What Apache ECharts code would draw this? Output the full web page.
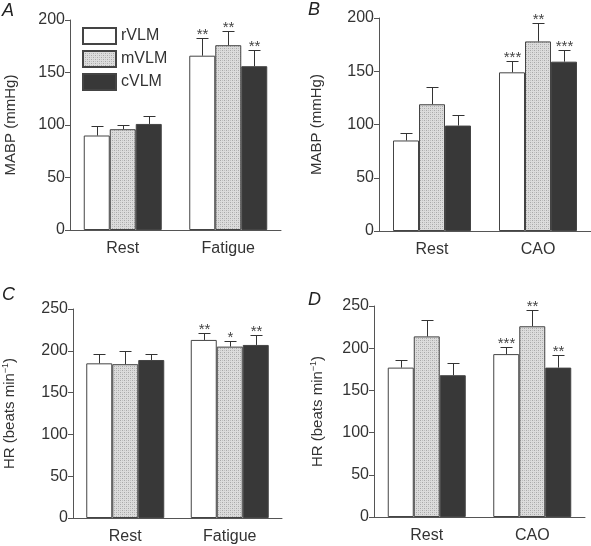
<!DOCTYPE html>
<html><head><meta charset="utf-8">
<script src="https://cdn.jsdelivr.net/npm/echarts@6/dist/echarts.min.js"></script>
<style>html,body{margin:0;padding:0;background:#fff}#c{width:591px;height:546px}</style>
</head><body><div id="c"></div>
<script>
// ---- data ----
const seriesNames = ['rVLM', 'mVLM', 'cVLM'];
const catsFatigue = ['Rest', 'Fatigue'];
const catsCAO = ['Rest', 'CAO'];
const yTicksMABP = [0, 50, 100, 150, 200];
const yTicksHR = [0, 50, 100, 150, 200, 250];

// Panel A: MABP, Rest vs Fatigue
const A_rVLM = [90, 166], A_rVLM_err = [9, 17], A_rVLM_sig = ['', '**'];
const A_mVLM = [96, 176], A_mVLM_err = [4, 14], A_mVLM_sig = ['', '**'];
const A_cVLM = [101, 156], A_cVLM_err = [8, 15], A_cVLM_sig = ['', '**'];
// Panel B: MABP, Rest vs CAO
const B_rVLM = [85, 149], B_rVLM_err = [7, 11], B_rVLM_sig = ['', '***'];
const B_mVLM = [119, 178], B_mVLM_err = [16, 17], B_mVLM_sig = ['', '**'];
const B_cVLM = [99, 159], B_cVLM_err = [10, 11], B_cVLM_sig = ['', '***'];
// Panel C: HR, Rest vs Fatigue
const C_rVLM = [185, 213], C_rVLM_err = [11, 8], C_rVLM_sig = ['', '**'];
const C_mVLM = [184, 205], C_mVLM_err = [16, 7], C_mVLM_sig = ['', '*'];
const C_cVLM = [189, 207], C_cVLM_err = [7, 12], C_cVLM_sig = ['', '**'];
// Panel D: HR, Rest vs CAO
const D_rVLM = [177, 193], D_rVLM_err = [9, 8], D_rVLM_sig = ['', '***'];
const D_mVLM = [214, 226], D_mVLM_err = [19, 19], D_mVLM_sig = ['', '**'];
const D_cVLM = [168, 177], D_cVLM_err = [14, 15], D_cVLM_sig = ['', '**'];

// ---- styling ----
const FONT = 'Liberation Sans, Arial, sans-serif';
const TXT = '#333';
const AX = '#555';
const BARW = 26;

function stipple() {
  const c = document.createElement('canvas');
  c.width = 4; c.height = 4;
  const g = c.getContext('2d');
  g.fillStyle = '#dcdcdc'; g.fillRect(0, 0, 4, 4);
  g.fillStyle = '#a8a8a8';
  g.fillRect(0, 0, 1, 1); g.fillRect(2, 2, 1, 1);
  g.fillStyle = '#c0c0c0';
  g.fillRect(2, 0, 1, 1); g.fillRect(0, 2, 1, 1);
  return c;
}
const fills = { rVLM: '#ffffff', mVLM: { image: stipple(), repeat: 'repeat' }, cVLM: '#383838' };

const panels = [
  { letter: 'A', cats: catsFatigue, ticks: yTicksMABP, name: 'MABP (mmHg)', grid: { left: 70, top: 20, width: 211, height: 210 }, gap: 52,
    data: [[A_rVLM, A_rVLM_err, A_rVLM_sig], [A_mVLM, A_mVLM_err, A_mVLM_sig], [A_cVLM, A_cVLM_err, A_cVLM_sig]] },
  { letter: 'B', cats: catsCAO, ticks: yTicksMABP, name: 'MABP (mmHg)', grid: { left: 379, top: 18, width: 212, height: 213 }, gap: 55,
    data: [[B_rVLM, B_rVLM_err, B_rVLM_sig], [B_mVLM, B_mVLM_err, B_mVLM_sig], [B_cVLM, B_cVLM_err, B_cVLM_sig]] },
  { letter: 'C', cats: catsFatigue, ticks: yTicksHR, name: 'HR (beats min{sup|−1})', grid: { left: 71, top: 309, width: 211, height: 209 }, gap: 55,
    data: [[C_rVLM, C_rVLM_err, C_rVLM_sig], [C_mVLM, C_mVLM_err, C_mVLM_sig], [C_cVLM, C_cVLM_err, C_cVLM_sig]] },
  { letter: 'D', cats: catsCAO, ticks: yTicksHR, name: 'HR (beats min{sup|−1})', grid: { left: 374, top: 306, width: 211, height: 211 }, gap: 48,
    data: [[D_rVLM, D_rVLM_err, D_rVLM_sig], [D_mVLM, D_mVLM_err, D_mVLM_sig], [D_cVLM, D_cVLM_err, D_cVLM_sig]] }
];
const letterPos = [[2, 2], [308, 1], [2, 286], [308, 291]];

const grid = [], xAxis = [], yAxis = [], series = [], graphic = [];
panels.forEach((p, pi) => {
  grid.push(p.grid);
  xAxis.push({
    type: 'category', gridIndex: pi, data: p.cats,
    axisLine: { lineStyle: { color: AX, width: 1 } },
    axisTick: { show: false },
    axisLabel: { color: TXT, fontSize: 16, fontFamily: FONT, margin: 11 }
  });
  const mx = p.ticks[p.ticks.length - 1];
  yAxis.push({
    type: 'value', gridIndex: pi, min: 0, max: mx, interval: p.ticks[1] - p.ticks[0],
    name: p.name, nameLocation: 'middle', nameGap: p.gap, nameRotate: 90,
    nameTextStyle: { color: TXT, fontSize: 15, fontFamily: FONT,
      rich: { sup: { fontSize: 9, fontFamily: FONT, color: TXT, verticalAlign: 'top', padding: [0, 0, 8, 0] } } },
    axisLine: { show: true, lineStyle: { color: AX, width: 1 } },
    axisTick: { show: true, length: 5, lineStyle: { color: AX } },
    splitLine: { show: false },
    axisLabel: { color: TXT, fontSize: 16, fontFamily: FONT, margin: 5 }
  });
  p.data.forEach((d, si) => {
    const nm = seriesNames[si];
    series.push({
      type: 'bar', name: nm, xAxisIndex: pi, yAxisIndex: pi, data: d[0],
      barWidth: BARW, barGap: '0%',
      itemStyle: { color: fills[nm], borderColor: '#444', borderWidth: 1 },
      emphasis: { disabled: true }, z: 2
    });
    const offset = (si - 1) * BARW;
    const errs = d[1], sigs = d[2];
    series.push({
      type: 'custom', xAxisIndex: pi, yAxisIndex: pi, z: 5, silent: true,
      data: d[0].map((v, i) => [i, v, errs[i]]),
      renderItem: function (params, api) {
        const i = api.value(0), v = api.value(1), e = api.value(2);
        const p0 = api.coord([i, v]);
        const p1 = api.coord([i, v + e]);
        const cx = Math.round(p0[0] + offset) + 0.5;
        const yt = Math.round(p1[1]) + 0.5;
        const ls = { stroke: '#333', lineWidth: 1 };
        const ch = [
          { type: 'line', shape: { x1: cx, y1: p0[1], x2: cx, y2: yt }, style: ls },
          { type: 'line', shape: { x1: cx - 6, y1: yt, x2: cx + 6, y2: yt }, style: ls }
        ];
        if (sigs[i]) {
          ch.push({ type: 'text', style: { text: sigs[i], x: cx, y: yt + 4, align: 'center', verticalAlign: 'bottom',
            font: '15px ' + FONT, fill: '#444' } });
        }
        return { type: 'group', children: ch };
      }
    });
  });
  graphic.push({ type: 'text', left: letterPos[pi][0], top: letterPos[pi][1],
    style: { text: p.letter, font: 'italic 18px ' + FONT, fill: '#222' } });
});

const chart = echarts.init(document.getElementById('c'), null, { renderer: 'canvas' });
chart.setOption({
  backgroundColor: '#ffffff',
  animation: false,
  grid, xAxis, yAxis, series, graphic,
  legend: {
    data: seriesNames, orient: 'vertical', left: 82, top: 27, padding: 0,
    icon: 'rect', itemWidth: 33, itemHeight: 16, itemGap: 5,
    selectedMode: false,
    textStyle: { color: TXT, fontSize: 16, fontFamily: FONT }
  }
});
</script>
</body></html>
